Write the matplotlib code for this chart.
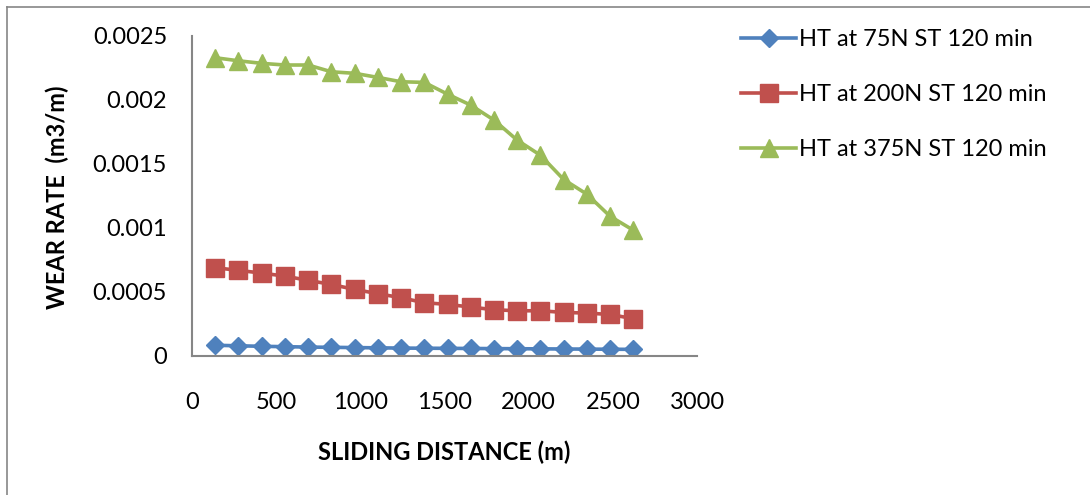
import matplotlib.pyplot as plt
from matplotlib.lines import Line2D

# Sliding distance (m) and wear rate (m3/m)
distance = [138, 276, 414, 552, 690, 828, 966, 1104, 1242, 1380,
            1518, 1656, 1794, 1932, 2070, 2208, 2346, 2484, 2622]

wear_75n = [0.000080, 0.000076, 0.000072, 0.000069, 0.000066, 0.000064, 0.000062,
            0.000060, 0.000058, 0.000057, 0.000056, 0.000055, 0.000054, 0.000053,
            0.000052, 0.000051, 0.000050, 0.000049, 0.000048]

wear_200n = [0.000687, 0.000666, 0.000645, 0.000621, 0.000588, 0.000556, 0.000517,
             0.000484, 0.000452, 0.000413, 0.000400, 0.000379, 0.000358, 0.000350,
             0.000350, 0.000337, 0.000332, 0.000321, 0.000288]

wear_375n = [0.00233, 0.002306, 0.002286, 0.002273, 0.002273, 0.00222, 0.002208,
             0.002176, 0.002142, 0.002137, 0.002045, 0.001959, 0.001842, 0.001685,
             0.001567, 0.001377, 0.001262, 0.001089, 0.00098]

labels = ["HT at 75N ST 120 min", "HT at 200N ST 120 min", "HT at 375N ST 120 min"]
x_ticks = [0, 500, 1000, 1500, 2000, 2500, 3000]
y_ticks = [0, 0.0005, 0.001, 0.0015, 0.002, 0.0025]
y_tick_labels = ["0", "0.0005", "0.001", "0.0015", "0.002", "0.0025"]

plt.rcParams['font.family'] = ['Lato', 'DejaVu Sans']
FS = 17

fig = plt.figure(figsize=(10.9, 4.95), dpi=100)
ax = fig.add_axes([192 / 1090, 1 - 355.5 / 495, (697 - 192) / 1090, (355.5 - 36) / 495])

ax.plot(distance, wear_75n, color='#4F81BD', lw=2.6, marker='D', ms=9.5, label=labels[0])
ax.plot(distance, wear_200n, color='#C0504D', lw=2.6, marker='s', ms=13.5, label=labels[1])
ax.plot(distance, wear_375n, color='#9BBB59', lw=2.6, marker='^', ms=13.5, label=labels[2])

ax.set_xlim(0, 3000)
ax.set_ylim(0, 0.0025)
ax.set_xticks(x_ticks)
ax.set_xticklabels([str(t) for t in x_ticks])
ax.set_yticks(y_ticks)
ax.set_yticklabels(y_tick_labels)
ax.tick_params(axis='both', length=0, labelsize=FS)
ax.tick_params(axis='y', pad=18)
ax.tick_params(axis='x', pad=26)

for side in ['top', 'right']:
    ax.spines[side].set_visible(False)
for side in ['left', 'bottom']:
    ax.spines[side].set_color('#868686')
    ax.spines[side].set_linewidth(1.5)

fig.text(57 / 1090, 1 - 197 / 495, "WEAR RATE  (m3/m)", rotation=90,
         ha='center', va='center', fontsize=FS, fontweight='bold')
fig.text(444 / 1090, 1 - 452 / 495, "SLIDING DISTANCE (m)",
         ha='center', va='center', fontsize=FS, fontweight='bold')

fig.legend(loc='upper left', bbox_to_anchor=(741 / 1090, 1 - 29 / 495),
           frameon=False, fontsize=FS, handlelength=2.35, handletextpad=0.12,
           labelspacing=1.44, numpoints=1, borderpad=0, borderaxespad=0)

# outer chart border (top and left edges visible)
fig.add_artist(Line2D([7 / 1090, 1], [1 - 7 / 495, 1 - 7 / 495], color='#868686', lw=1.2))
fig.add_artist(Line2D([7 / 1090, 7 / 1090], [0, 1 - 7 / 495], color='#868686', lw=1.2))

plt.savefig("out.png", dpi=100)
